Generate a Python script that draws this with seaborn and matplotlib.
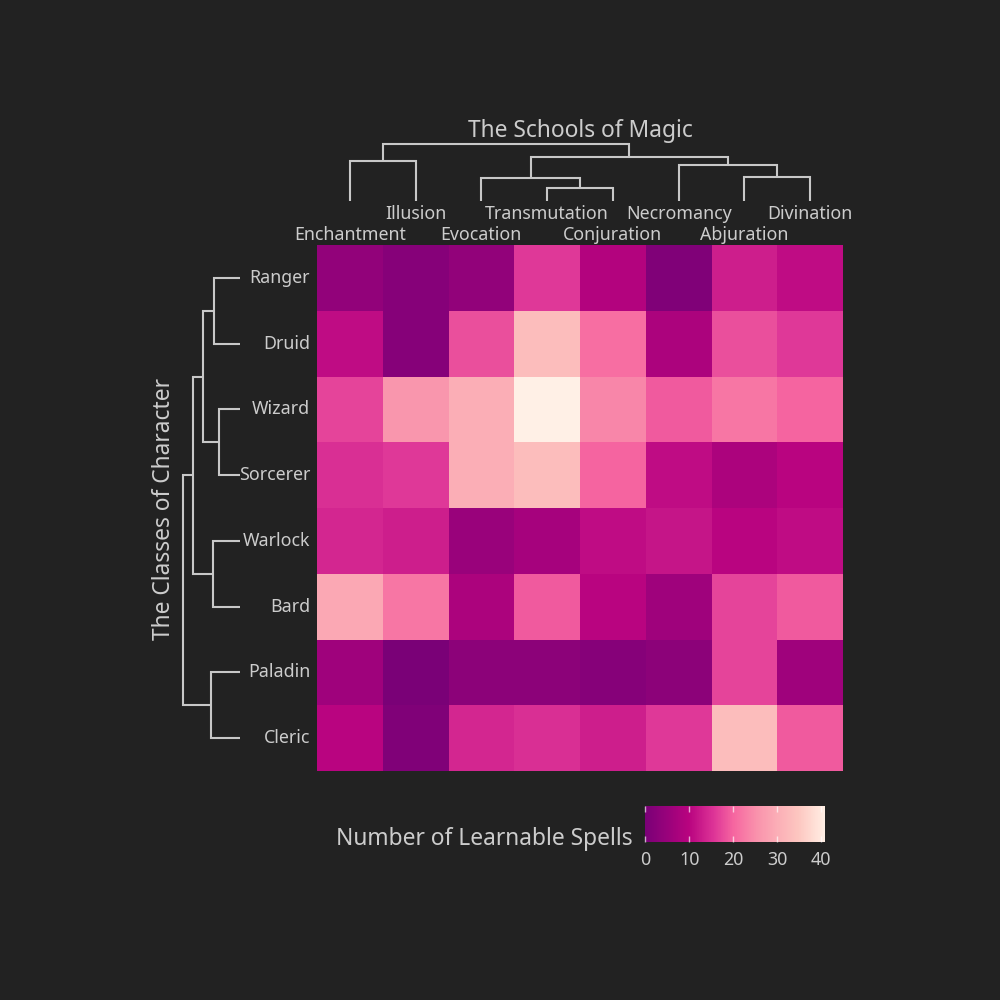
import numpy as np
import pandas as pd
import matplotlib
matplotlib.use("Agg")
import matplotlib.pyplot as plt
from matplotlib.colors import LinearSegmentedColormap
import seaborn as sns

# ---------------- data ----------------
classes = ["Ranger", "Druid", "Wizard", "Sorcerer", "Warlock", "Bard", "Paladin", "Cleric"]
schools = ["Enchantment", "Illusion", "Evocation", "Transmutation",
           "Conjuration", "Necromancy", "Abjuration", "Divination"]

ranger   = [4, 2, 4, 16, 9, 1, 13, 11]
druid    = [11, 2, 18, 33, 21, 8, 18, 16]
wizard   = [17, 26, 30, 41, 24, 19, 22, 20]
sorcerer = [15, 16, 30, 33, 20, 11, 8, 10]
warlock  = [14, 13, 5, 7, 11, 12, 10, 11]
bard     = [29, 22, 8, 19, 10, 6, 17, 19]
paladin  = [6, 0, 3, 3, 2, 3, 17, 6]
cleric   = [10, 1, 14, 15, 13, 16, 33, 19]

# dendrogram linkages: (child_a, child_b, merge distance); new cluster ids start at 8
col_links = [(3, 4, 13.0), (2, 8, 23.0), (6, 7, 24.0), (5, 10, 35.7),
             (9, 11, 44.0), (0, 1, 40.0), (13, 12, 56.7)]
row_links = [(2, 3, 20.7), (0, 1, 26.0), (4, 5, 26.7), (6, 7, 29.0),
             (9, 8, 36.7), (12, 10, 47.3), (13, 11, 57.3)]

cbar_ticks = [0, 10, 20, 30, 40]

# ---------------- style ----------------
BG = "#222222"
FG = "#cccccc"
LINE = "#c8c8c8"
sns.set_theme(style="dark")
plt.rcParams["font.family"] = ["Noto Sans", "DejaVu Sans"]
plt.rcParams["figure.facecolor"] = BG
plt.rcParams["axes.facecolor"] = BG

cmap = LinearSegmentedColormap.from_list(
    "rdpu_custom",
    [(0.00, "#7a0177"), (0.24, "#b8037f"), (0.38, "#dd3497"), (0.49, "#f666a0"),
     (0.62, "#f992ac"), (0.73, "#fbadb6"), (0.85, "#fdc6c0"), (0.975, "#ffe8de"),
     (1.00, "#fff0e6")])

df = pd.DataFrame([ranger, druid, wizard, sorcerer, warlock, bard, paladin, cleric],
                  index=classes, columns=schools)

W = H = 1000.0
fig = plt.figure(figsize=(10, 10), dpi=100)


def px_axes(x0, y0, x1, y1):
    """axes from pixel box (top-left origin)"""
    return fig.add_axes([x0 / W, 1 - y1 / H, (x1 - x0) / W, (y1 - y0) / H])


ax = px_axes(317, 245, 843, 771)
cax = px_axes(645.3, 806, 825.3, 841.5)

vmax = float(df.values.max())
sns.heatmap(df, ax=ax, cmap=cmap, vmin=0, vmax=vmax, cbar_ax=cax,
            cbar_kws={"orientation": "horizontal", "ticks": cbar_ticks})

# row labels
ax.set_xticks([])
ax.set_xlabel("")
ax.set_ylabel("")
ax.tick_params(axis="y", length=0, pad=5, labelsize=12.8, labelcolor=FG)
ax.set_yticklabels(classes, rotation=0)

# column labels in two staggered rows
for i, name in enumerate(schools):
    off = 7 if i % 2 == 0 else 22.5
    ax.annotate(name, xy=(i + 0.5, 1.0), xycoords=("data", "axes fraction"),
                xytext=(0, off), textcoords="offset points",
                ha="center", va="center", fontsize=12.8, color=FG)


def draw_dendro(dax, links, n, orient):
    pos = {i: i + 0.5 for i in range(n)}
    hgt = {i: 0.0 for i in range(n)}
    for k, (a, b, h) in enumerate(links):
        pa, pb, ha, hb = pos[a], pos[b], hgt[a], hgt[b]
        xs = [pa, pa, pb, pb]
        ys = [ha, h, h, hb]
        if orient == "top":
            dax.plot(xs, ys, color=LINE, lw=1.5, solid_capstyle="butt",
                     solid_joinstyle="miter", clip_on=False)
        else:
            dax.plot(ys, xs, color=LINE, lw=1.5, solid_capstyle="butt",
                     solid_joinstyle="miter", clip_on=False)
        pos[n + k] = (pa + pb) / 2
        hgt[n + k] = h
    return hgt[n + len(links) - 1]


# column dendrogram (top)
dcol = px_axes(317, 144.3, 843, 201)
top = draw_dendro(dcol, col_links, len(schools), "top")
dcol.set_xlim(0, len(schools))
dcol.set_ylim(0, top)
dcol.axis("off")

# row dendrogram (left)
drow = px_axes(182.7, 245, 240, 771)
left = draw_dendro(drow, row_links, len(classes), "left")
drow.set_ylim(len(classes), 0)
drow.set_xlim(left, 0)
drow.axis("off")

# titles
fig.text(580 / W, 1 - 131 / H, "The Schools of Magic", ha="center", va="center",
         fontsize=16.4, color=FG)
fig.text(164 / W, 1 - 509 / H, "The Classes of Character", ha="center", va="center",
         rotation=90, fontsize=16.4, color=FG)
fig.text(633 / W, 1 - 839 / H, "Number of Learnable Spells", ha="right", va="center",
         fontsize=16.4, color=FG)

# colorbar styling
cbar = ax.collections[0].colorbar
cbar.outline.set_visible(False)
cax.set_axisbelow(False)
cax.set_xticks(cbar_ticks)
cax.tick_params(axis="x", direction="in", length=4.5, width=1,
                color=(1, 1, 1, 0.65), top=True, bottom=True,
                labelcolor=FG, labelsize=12.8, pad=7)

fig.savefig("out.png", dpi=100, facecolor=BG)
